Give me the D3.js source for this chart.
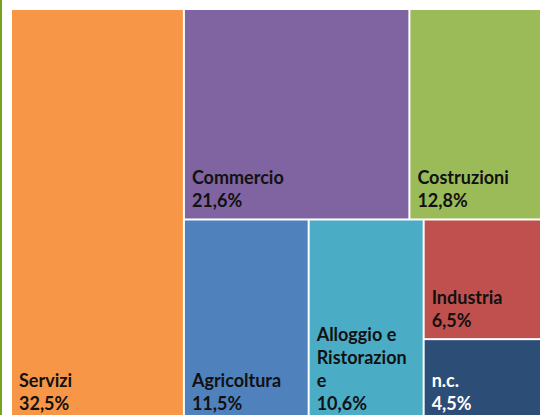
<!DOCTYPE html>
<html>
<head>
<meta charset="utf-8">
<script src="https://cdn.jsdelivr.net/npm/d3@7"></script>
<style>
  body { margin: 0; background: #fff; }
  .label { font-family: "Lato", "Noto Sans", sans-serif; font-weight: 700; font-size: 18px; }
</style>
</head>
<body>
<div id="chart"></div>
<script>
// Settori e quote (%)
const categories = ["Servizi", "Commercio", "Costruzioni", "Agricoltura", "Alloggio e Ristorazione", "Industria", "n.c."];
const shares = [32.5, 21.6, 12.8, 11.5, 10.6, 6.5, 4.5];
const colors = ["#F79646", "#8064A2", "#9BBB59", "#4F81BD", "#4BACC6", "#C0504D", "#2C4D75"];
const textColors = ["#111", "#111", "#111", "#111", "#111", "#111", "#fff"];

const width = 540, height = 415;
const fmt = v => d3.format(".1f")(v).replace(".", ",") + "%";

const svg = d3.select("#chart").append("svg")
    .attr("width", width)
    .attr("height", height);

// green rule on the left
svg.append("rect")
    .attr("x", 0).attr("y", 0)
    .attr("width", 2).attr("height", height)
    .attr("fill", "#76A31A");

// nesting as laid out in the original (slice / dice alternation)
let leaf = i => ({name: categories[i], value: shares[i], idx: i});
let tree = {
    children: [
        leaf(0),
        {children: [
            {children: [leaf(1), leaf(2)]},
            {children: [leaf(3), leaf(4), {children: [leaf(5), leaf(6)]}]}
        ]}
    ]
};

let root = d3.hierarchy(tree).sum(d => d.value || 0);

d3.treemap()
    .tile(d3.treemapSliceDice)
    .size([530, 411])
    .paddingInner(2)
    .round(false)(root);

let g = svg.append("g").attr("transform", "translate(12,10)");

let cell = g.selectAll("g.cell")
    .data(root.leaves())
    .join("g")
    .attr("class", "cell")
    .attr("transform", d => "translate(" + d.x0 + "," + d.y0 + ")");

cell.append("rect")
    .attr("width", d => d.x1 - d.x0)
    .attr("height", d => d.y1 - d.y0)
    .attr("fill", d => colors[d.data.idx]);

// wrap words, breaking long words by characters
function wrapLines(text, maxW, measure) {
    let words = text.split(" ");
    let lines = [];
    let cur = "";
    words.forEach(w => {
        let test = cur ? cur + " " + w : w;
        if (measure(test) <= maxW) { cur = test; return; }
        if (cur) lines.push(cur);
        cur = "";
        let chunk = "";
        for (let ch of w) {
            if (measure(chunk + ch) > maxW && chunk) { lines.push(chunk); chunk = ch; }
            else chunk += ch;
        }
        cur = chunk;
    });
    if (cur) lines.push(cur);
    return lines;
}

let lineH = 23;

cell.each(function(d) {
    let c = d3.select(this);
    let w = d.x1 - d.x0, h = d.y1 - d.y0;
    let t = c.append("text")
        .attr("class", "label")
        .attr("fill", textColors[d.data.idx]);
    let probe = t.append("tspan");
    let measure = s => { probe.text(s); return probe.node().getComputedTextLength(); };
    let lines = wrapLines(d.data.name, w - 18, measure);
    probe.remove();
    lines.push(fmt(d.data.value));
    let bottom = h - 11;
    lines.forEach((ln, i) => {
        t.append("tspan")
            .attr("x", 7)
            .attr("y", bottom - (lines.length - 1 - i) * lineH)
            .text(ln);
    });
});
</script>
</body>
</html>
